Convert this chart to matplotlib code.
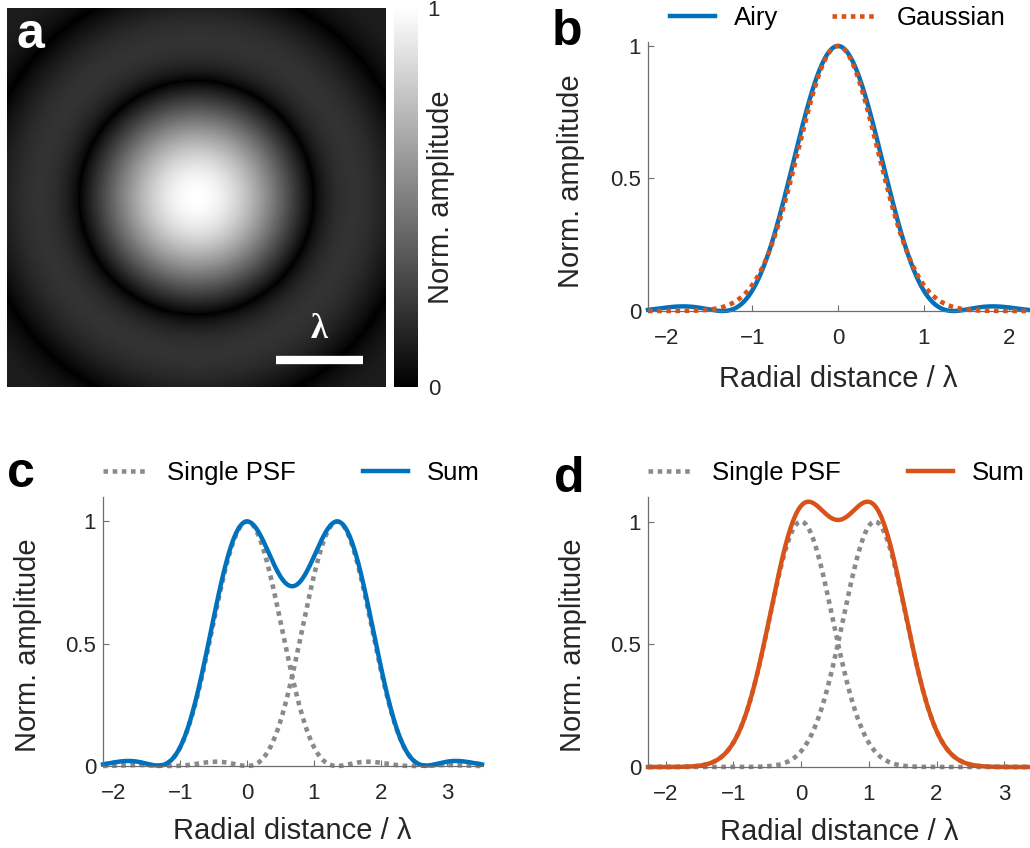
import numpy as np
import matplotlib
matplotlib.use("Agg")
import matplotlib.pyplot as plt
from math import factorial

plt.rcParams["font.family"] = ["Liberation Sans", "DejaVu Sans"]

# values (lengths in units of lambda)
AIRY_FIRST_ZERO = 1.35        # first dark ring of the Airy pattern
GAUSS_SIGMA = 0.465           # Gaussian fitted to the Airy peak
C_CENTERS = [0.0, 1.35]       # two Airy PSFs (Rayleigh)
D_CENTERS = [0.0, 1.09]       # two Gaussian PSFs
IMAGE_HALF_WIDTH = 2.18
IMAGE_GAMMA = 0.8             # display gamma of the image in panel a
SCALEBAR_X = [0.91, 1.91]
SCALEBAR_Y = -1.87

B_XLIM = [-2.22, 2.22]
C_XLIM = [-2.16, 3.52]
D_XLIM = [-2.26, 3.38]
B_XTICKS = [-2, -1, 0, 1, 2]
CD_XTICKS = [-2, -1, 0, 1, 2, 3]
YTICKS = [0, 0.5, 1]
YTICKLABELS = ["0", "0.5", "1"]

BLUE = "#0072BD"
ORANGE = "#D95319"
GRAY = "#8a8a8a"
AXGRAY = "#6e6e6e"
TXT = "#262626"

TICK_FS = 16
LABEL_FS = 21
LEGEND_FS = 18.5

W, H = 1030, 848


def box(left, top, right, bottom):
    return [left / W, 1 - bottom / H, (right - left) / W, (bottom - top) / H]


def j1(x):
    # power series of the Bessel function J1
    out = np.zeros_like(x)
    for m in range(40):
        out += (-1) ** m * (x / 2) ** (2 * m + 1) / (factorial(m) * factorial(m + 1))
    return out


def airy_amp(r):
    k = 3.8317 / AIRY_FIRST_ZERO
    x = np.abs(k * r)
    x = np.where(x < 1e-9, 1e-9, x)
    return np.abs(2 * j1(x) / x)


def airy(r):
    return airy_amp(r) ** 2


def gauss(r):
    return np.exp(-r ** 2 / (2 * GAUSS_SIGMA ** 2))


def style(ax, xlim, xticks):
    ax.set_xlim(xlim)
    ax.set_ylim(0, 1.1)
    ax.spines["top"].set_visible(False)
    ax.spines["right"].set_visible(False)
    for s in ["left", "bottom"]:
        ax.spines[s].set_color(AXGRAY)
        ax.spines[s].set_linewidth(0.9)
    ax.set_xticks(xticks)
    ax.set_yticks(YTICKS)
    ax.set_yticklabels(YTICKLABELS)
    ax.tick_params(axis="both", direction="in", length=4, color=AXGRAY,
                   labelsize=TICK_FS, labelcolor=TXT)
    ax.tick_params(axis="x", pad=12)
    ax.tick_params(axis="y", pad=5)
    ax.set_xlabel("Radial distance / λ", fontsize=LABEL_FS, color=TXT)
    ax.set_ylabel("Norm. amplitude", fontsize=LABEL_FS, color=TXT)
    ax.xaxis.set_label_coords(0.5, -0.19)


def legend(ax, x0, spacing):
    ax.legend(loc="center left", bbox_to_anchor=(x0, 1.089), ncol=2, frameon=False,
              fontsize=LEGEND_FS, handlelength=1.75, handletextpad=0.75,
              columnspacing=spacing, borderpad=0, borderaxespad=0)


fig = plt.figure(figsize=(W / 100, H / 100), dpi=100)

# ---- a: Airy image
ax_a = fig.add_axes(box(7, 8, 386, 387))
grid = np.linspace(-IMAGE_HALF_WIDTH, IMAGE_HALF_WIDTH, 400)
xx, yy = np.meshgrid(grid, grid)
img = airy_amp(np.sqrt(xx ** 2 + yy ** 2)) ** IMAGE_GAMMA
im = ax_a.imshow(img, cmap="gray", vmin=0, vmax=1, origin="lower",
                 extent=[-IMAGE_HALF_WIDTH, IMAGE_HALF_WIDTH, -IMAGE_HALF_WIDTH, IMAGE_HALF_WIDTH],
                 interpolation="bilinear")
ax_a.plot(SCALEBAR_X, [SCALEBAR_Y, SCALEBAR_Y], color="white", lw=6, solid_capstyle="butt")
ax_a.text(np.mean(SCALEBAR_X), SCALEBAR_Y + 0.16, "λ", color="white", fontsize=25,
          fontweight="bold", family=["Liberation Serif", "DejaVu Serif"], ha="center", va="bottom")
ax_a.set_xticks([])
ax_a.set_yticks([])
for s in ax_a.spines.values():
    s.set_visible(False)

cax = fig.add_axes(box(394, 8, 418, 387))
cb = fig.colorbar(im, cax=cax, ticks=[0, 1])
cb.outline.set_visible(False)
cax.tick_params(length=0, labelsize=TICK_FS, labelcolor=TXT, pad=7)
fig.text(441 / W, 1 - 197 / H, "Norm. amplitude", rotation=90, fontsize=LABEL_FS,
         color=TXT, ha="center", va="center")

# ---- b: Airy vs Gaussian
ax_b = fig.add_axes(box(648, 42, 1028, 311))
r = np.linspace(B_XLIM[0], B_XLIM[1], 800)
ax_b.plot(r, airy(r), color=BLUE, lw=3.2, label="Airy", clip_on=False)
ax_b.plot(r, gauss(r), color=ORANGE, lw=3.3, ls=(0, (1, 1)), label="Gaussian", clip_on=False)
style(ax_b, B_XLIM, B_XTICKS)
ax_b.set_ylim(0, 1.015)
ax_b.xaxis.set_label_coords(0.5, -0.2)
ax_b.yaxis.set_label_coords(-0.166, 0.483)
legend(ax_b, 0.058, 2.1)

# ---- c: two Airy PSFs
ax_c = fig.add_axes(box(103, 497, 482, 766))
r = np.linspace(C_XLIM[0], C_XLIM[1], 1000)
psf_c = [airy(r - c) for c in C_CENTERS]
ax_c.plot(r, psf_c[0], color=GRAY, lw=3.3, ls=(0, (1, 1)), label="Single PSF", clip_on=False)
ax_c.plot(r, psf_c[1], color=GRAY, lw=3.3, ls=(0, (1, 1)), clip_on=False)
ax_c.plot(r, psf_c[0] + psf_c[1], color=BLUE, lw=3.2, label="Sum", clip_on=False)
style(ax_c, C_XLIM, CD_XTICKS)
ax_c.yaxis.set_label_coords(-0.161, 0.45)
legend(ax_c, 0.0, 2.6)

# ---- d: two Gaussian PSFs
ax_d = fig.add_axes(box(648, 497, 1030, 767))
r = np.linspace(D_XLIM[0], D_XLIM[1], 1000)
psf_d = [gauss(r - c) for c in D_CENTERS]
ax_d.plot(r, psf_d[0], color=GRAY, lw=3.3, ls=(0, (1, 1)), label="Single PSF", clip_on=False)
ax_d.plot(r, psf_d[1], color=GRAY, lw=3.3, ls=(0, (1, 1)), clip_on=False)
ax_d.plot(r, psf_d[0] + psf_d[1], color=ORANGE, lw=3.2, label="Sum", clip_on=False)
style(ax_d, D_XLIM, CD_XTICKS)
ax_d.yaxis.set_label_coords(-0.16, 0.45)
legend(ax_d, 0.0, 2.6)

# panel letters
for letter, x, y, col in [("a", 17, 48, "white"), ("b", 552, 45, "black"),
                          ("c", 7, 487, "black"), ("d", 554, 492, "black")]:
    fig.text(x / W, 1 - y / H, letter, fontsize=36, fontweight="bold", color=col,
             ha="left", va="baseline")

fig.savefig("out.png", dpi=100)
